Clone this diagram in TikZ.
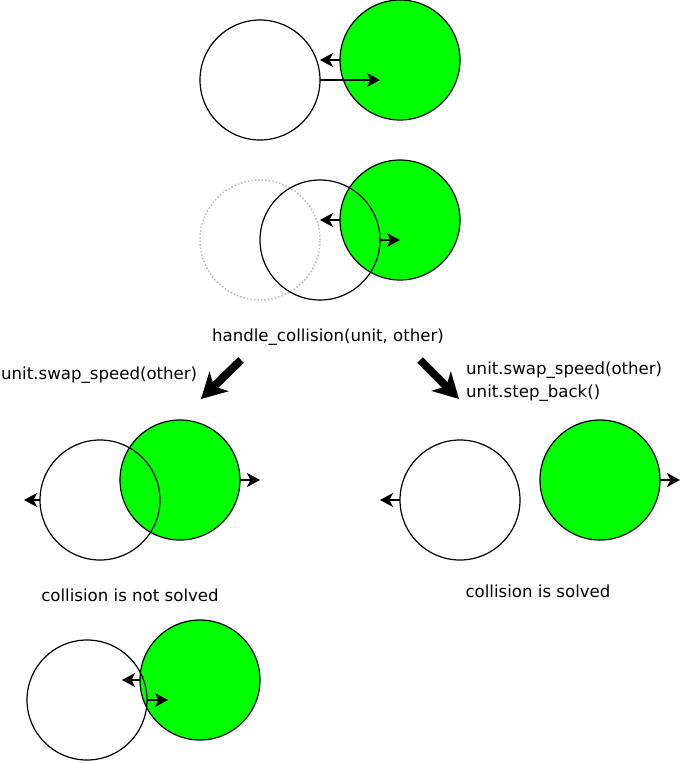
\documentclass[tikz,border=0pt]{standalone}
\usepackage{fontspec}
\setmainfont{DejaVu Sans}
\usetikzlibrary{arrows.meta}
\definecolor{ballgreen}{HTML}{00FF00}
\definecolor{ghostgray}{HTML}{BBBBBB}
\tikzset{
  ball/.style={circle, draw=black, line width=1.2pt, minimum size=120pt, inner sep=0pt, outer sep=0pt},
  greenball/.style={ball, fill=ballgreen},
  whiteball/.style={ball},
  ghostball/.style={circle, draw=ghostgray, dotted, line width=1.5pt, minimum size=120pt, inner sep=0pt, outer sep=0pt},
  speed/.style={line width=1.3pt, -{Stealth[length=13pt,width=14pt,inset=3.5pt]}},
  bigarrow/.style={line width=8pt, -{Stealth[length=25pt,width=27pt,inset=7pt]}},
  lbl/.style={font=\fontsize{16.6}{22.5}\selectfont, inner sep=0pt},
}
\begin{document}
\begin{tikzpicture}[x=1pt,y=-1pt]
\useasboundingbox (0,0) rectangle (681,763);
% row 1
\node[whiteball] (w1) at (260,80) {};
\node[greenball] (g1) at (400,60) {};
\coordinate (g1t) at (320,60);
\coordinate (w1t) at (380,80);
\draw[speed] (g1.west) -- (g1t);
\draw[speed] (w1.east) -- (w1t);
% row 2
\node[ghostball] (p2) at (260,240) {};
\node[greenball] (g2) at (400,220) {};
\node[whiteball] (w2) at (320,240) {};
\coordinate (g2t) at (320,220);
\coordinate (w2t) at (400,240);
\draw[speed] (g2.west) -- (g2t);
\draw[speed] (w2.east) -- (w2t);
% labels
\node[lbl, anchor=base] (hc) at (328,341) {handle\_collision(unit, other)};
\coordinate (la0) at (241,360);
\coordinate (la1) at (201,399);
\coordinate (ra0) at (420,360);
\coordinate (ra1) at (459,399);
\draw[bigarrow] (la0) -- (la1);
\draw[bigarrow] (ra0) -- (ra1);
\node[lbl, anchor=base west] (ls) at (1,379) {unit.swap\_speed(other)};
\node[lbl, anchor=base west, align=left] (rs) at (466,397) {unit.swap\_speed(other)\\unit.step\_back()};
% row 3 left
\node[greenball] (g3) at (180,480) {};
\node[whiteball] (w3) at (100,500) {};
\coordinate (w3t) at (24,500);
\coordinate (g3t) at (260,480);
\draw[speed] (w3.west) -- (w3t);
\draw[speed] (g3.east) -- (g3t);
% row 3 right
\node[whiteball] (w4) at (460,500) {};
\node[greenball] (g4) at (600,480) {};
\coordinate (w4t) at (380,500);
\coordinate (g4t) at (680,480);
\draw[speed] (w4.west) -- (w4t);
\draw[speed] (g4.east) -- (g4t);
\node[lbl, anchor=base] (ns) at (130,601) {collision is not solved};
\node[lbl, anchor=base] (so) at (538,597) {collision is solved};
% row 4
\node[greenball] (g5) at (200,680) {};
\node[whiteball] (w5) at (87,700) {};
\coordinate (g5t) at (122,680);
\coordinate (w5t) at (168,700);
\draw[speed] (g5.west) -- (g5t);
\draw[speed] (w5.east) -- (w5t);
\end{tikzpicture}
\end{document}
